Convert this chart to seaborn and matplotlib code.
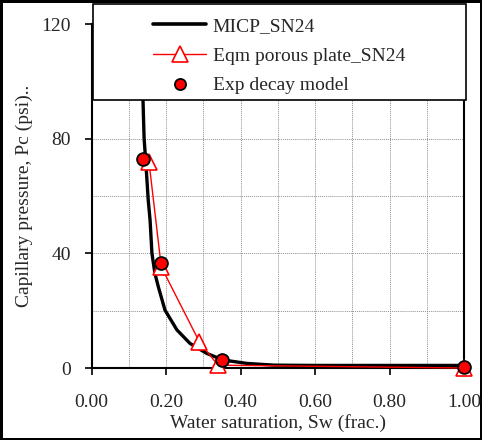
import numpy as np
import pandas as pd
import matplotlib
matplotlib.use("Agg")
import matplotlib.pyplot as plt
import seaborn as sns
from matplotlib.patches import Rectangle
from matplotlib.ticker import MultipleLocator, FormatStrFormatter
from matplotlib.lines import Line2D

# MICP curve
micp_sw = [0.125, 0.130, 0.135, 0.138, 0.141, 0.145, 0.148, 0.152, 0.157, 0.162, 0.170, 0.179,
           0.197, 0.229, 0.264, 0.309, 0.353, 0.417, 0.490, 0.600, 0.800, 1.000]
micp_pc = [150.0, 120.0, 99.4, 93.5, 80.0, 72.8, 66.8, 58.6, 51.6, 40.0, 33.0, 28.4,
           20.2, 13.3, 8.6, 5.1, 2.8, 1.6, 1.0, 0.9, 0.9, 0.9]

# porous plate points
plate_sw = [0.154, 0.187, 0.289, 0.339, 1.000]
plate_pc = [72.0, 35.3, 9.2, 1.0, 0.0]

# exp decay model points
exp_sw = [0.137, 0.187, 0.350, 1.000]
exp_pc = [72.8, 36.7, 2.8, 0.3]

micp_df = pd.DataFrame({"Sw": micp_sw, "Pc": micp_pc})
plate_df = pd.DataFrame({"Sw": plate_sw, "Pc": plate_pc})
exp_df = pd.DataFrame({"Sw": exp_sw, "Pc": exp_pc})

sns.set_style("ticks")
plt.rcParams["font.family"] = ["Liberation Serif", "DejaVu Serif"]
plt.rcParams["font.size"] = 14

fig = plt.figure(figsize=(4.82, 4.40), dpi=100)
ax = fig.add_axes([0.19, 0.1636, 0.773, 0.7818])

sns.lineplot(data=micp_df, x="Sw", y="Pc", sort=False, color="black", linewidth=2.4, ax=ax)
sns.lineplot(data=plate_df, x="Sw", y="Pc", sort=False, color="red", linewidth=1.0,
             marker="^", markersize=11, markerfacecolor="white", markeredgecolor="red",
             markeredgewidth=1.2, ax=ax, clip_on=False, zorder=3)
sns.scatterplot(data=exp_df, x="Sw", y="Pc", color="red", edgecolor="black", linewidth=1.3,
                s=85, ax=ax, clip_on=False, zorder=4)

ax.set_xlim(0, 1.0)
ax.set_ylim(0, 120)
ax.xaxis.set_major_locator(MultipleLocator(0.2))
ax.xaxis.set_minor_locator(MultipleLocator(0.1))
ax.yaxis.set_major_locator(MultipleLocator(40))
ax.yaxis.set_minor_locator(MultipleLocator(20))
ax.xaxis.set_major_formatter(FormatStrFormatter("%.2f"))
ax.grid(which="both", color="#909090", linestyle=(0, (1, 1)), linewidth=0.7)
ax.tick_params(which="major", direction="out", length=5, width=1.2, color="black",
               labelsize=14)
ax.tick_params(axis="x", which="major", pad=14)
ax.tick_params(axis="y", which="major", pad=10)
ax.tick_params(which="minor", length=0)
for sp in ax.spines.values():
    sp.set_color("black")
    sp.set_linewidth(1.5)

ax.set_xlabel("Water saturation, Sw (frac.)", fontsize=14, labelpad=2)
ax.set_ylabel("Capillary pressure, Pc (psi)..", fontsize=14, labelpad=6)

# legend box
fig.patches.append(Rectangle((0.193, 0.773), 0.774, 0.218, transform=fig.transFigure,
                             facecolor="white", edgecolor="black", linewidth=1.2, zorder=4))
handles = [
    Line2D([], [], color="black", linewidth=2.6),
    Line2D([], [], color="red", linewidth=1.0, marker="^", markersize=11,
           markerfacecolor="white", markeredgecolor="red", markeredgewidth=1.2),
    Line2D([], [], color="red", linestyle="none", marker="o", markersize=8,
           markeredgecolor="black", markeredgewidth=1.3),
]
labels = ["MICP_SN24", "Eqm porous plate_SN24", "Exp decay model"]
leg = fig.legend(handles, labels, loc="upper left", bbox_to_anchor=(0.282, 1.0),
                 frameon=False, fontsize=14, handlelength=2.7, handletextpad=0.35,
                 labelspacing=0.62)
leg.set_zorder(5)

fig.patch.set_edgecolor("black")
fig.patch.set_linewidth(2.5)

fig.savefig("out.png", dpi=100)
